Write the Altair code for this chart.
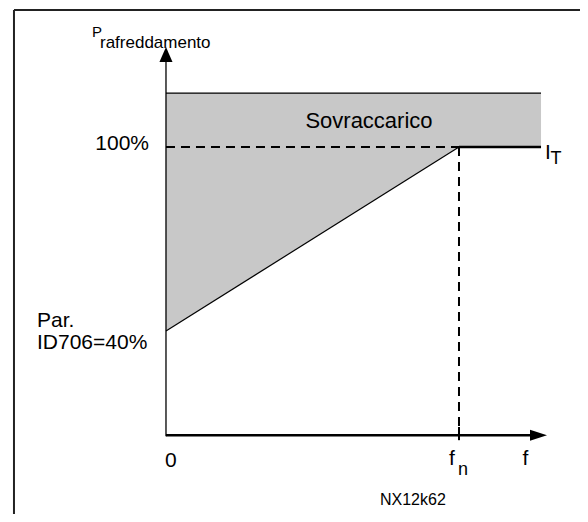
import altair as alt
import pandas as pd

# ---- data (frequency in units of f_n, cooling power in %) ----
f_points = [0.0, 1.0, 1.28]          # 0, f_n, end of the drawn plateau
p_cooling = [40, 100, 100]           # cooling-power curve I_T
p_overload_top = 117.6               # top of the "Sovraccarico" region
p_nominal = 100
p_zero_speed = 40                    # Par. ID706 = 40%
f_n = 1.0
x_axis_p = 6                         # level where the f axis is drawn
y_axis_top = 127.7
x_axis_end = 1.25

label_texts = ["P", "rafreddamento", "100%", "Sovraccarico", "Par.", "ID706=40%",
               "0", "f", "n", "f", "I", "T", "NX12k62"]
label_f = [-0.2526, -0.2253, -0.058, 0.6928, -0.4403, -0.4403,
           0.017, 0.976, 1.0137, 1.227, 1.2935, 1.331, 0.7304]
label_p = [135.87, 132.28, 99.02, 106.2, 41.3, 34.13,
           -4.35, -3.69, -6.96, -3.69, 96.09, 94.36, -16.74]
label_size = [15, 17, 21, 22, 21, 21, 21, 21, 18, 21, 21, 18, 16]
label_align = ["left", "left", "right", "center", "left", "left",
               "center", "center", "center", "center", "left", "center", "left"]

frame_f = -0.5188
frame_p_top = 144.67
frame_p_bottom = -23
frame_f_right = 1.5

XD = [-0.5392, 1.4130]
YD = [-19.67, 145.33]
FONT = "Liberation Sans"


def X(field):
    return alt.X(field, type="quantitative",
                 scale=alt.Scale(domain=XD, nice=False, zero=False), axis=None)


def Y(field):
    return alt.Y(field, type="quantitative",
                 scale=alt.Scale(domain=YD, nice=False, zero=False), axis=None)


# shaded overload region
area_df = pd.DataFrame({"f": f_points, "lo": p_cooling,
                        "hi": [p_overload_top] * len(f_points)})
area = alt.Chart(area_df).mark_area(color="#c8c8c8", opacity=1).encode(
    x=X("f"), y=Y("lo"), y2="hi")


def seg(x1, y1, x2, y2, width=1.0, dash=None, color="black"):
    df = pd.DataFrame({"x1": [x1], "y1": [y1], "x2": [x2], "y2": [y2]})
    kw = dict(color=color, strokeWidth=width)
    if dash:
        kw["strokeDash"] = dash
    return alt.Chart(df).mark_rule(**kw).encode(
        x=X("x1"), y=Y("y1"), x2="x2", y2="y2")


layers = [
    area,
    seg(f_points[0], p_overload_top, f_points[-1], p_overload_top, 1.2),
    seg(f_points[0], p_cooling[0], f_points[1], p_cooling[1], 1.2),
    seg(0, p_nominal, f_n, p_nominal, 2, [9, 6]),
    seg(f_n, p_nominal, f_n, x_axis_p, 2, [9, 6]),
    seg(f_points[1], p_cooling[1], f_points[2], p_cooling[2], 2.5),
    seg(0, x_axis_p, x_axis_end, x_axis_p, 2.5),
    seg(0, x_axis_p - 0.3, 0, y_axis_top, 1.3),
    seg(f_n, x_axis_p - 1.6, f_n, x_axis_p + 2.7, 2),
    seg(frame_f, frame_p_top, frame_f, frame_p_bottom, 2, None, "#222222"),
    seg(frame_f, frame_p_top, frame_f_right, frame_p_top, 2, None, "#222222"),
]

# arrow heads
arrow_df = pd.DataFrame({"f": [1.2713], "p": [x_axis_p]})
layers.append(alt.Chart(arrow_df).mark_point(
    shape="M-1,-0.65L1,0L-1,0.65Z", size=289, filled=True, color="black",
    opacity=1, strokeWidth=0).encode(x=X("f"), y=Y("p")))
arrow_df2 = pd.DataFrame({"f": [0.0], "p": [130.16]})
layers.append(alt.Chart(arrow_df2).mark_point(
    shape="M0,-1L0.87,1L-0.87,1Z", size=225, filled=True, color="black",
    opacity=1, strokeWidth=0).encode(x=X("f"), y=Y("p")))

labels = pd.DataFrame({"text": label_texts, "f": label_f, "p": label_p,
                       "size": label_size, "align": label_align})
for al in ["left", "center", "right"]:
    sub = labels[labels["align"] == al]
    layers.append(alt.Chart(sub).mark_text(
        align=al, baseline="alphabetic", font=FONT, color="black").encode(
        x=X("f"), y=Y("p"), text="text:N",
        size=alt.Size("size:Q", scale=None, legend=None)))

chart = alt.layer(*layers).properties(
    width=572, height=506, padding=0, autosize=alt.AutoSizeParams(type="none"),
    background="white",
).configure_view(stroke=None)

chart.save("out.html", embed_options={"renderer": "svg", "actions": False})
